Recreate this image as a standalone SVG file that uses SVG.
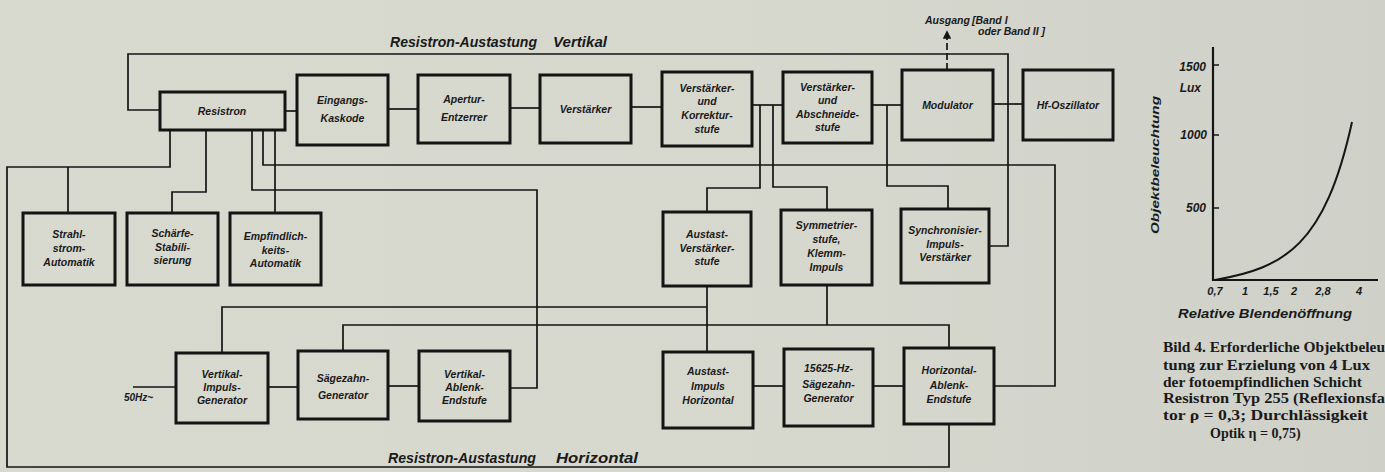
<svg xmlns="http://www.w3.org/2000/svg" width="1385" height="472" viewBox="0 0 1385 472">
<defs>
<linearGradient id="paper" x1="0" y1="0" x2="1" y2="0">
<stop offset="0" stop-color="#d8d9cf"/>
<stop offset="0.6" stop-color="#d6d7cd"/>
<stop offset="1" stop-color="#cfd0c8"/>
</linearGradient>
<marker id="arr" viewBox="0 0 10 10" refX="9" refY="5" markerWidth="5" markerHeight="5" orient="auto">
<path d="M0,0 L10,5 L0,10 z" fill="#151515"/>
</marker>
<style>
.box{fill:none;stroke:#141414;stroke-width:3}
.ln{fill:none;stroke:#151515;stroke-width:1.7}
.t{font-family:"Liberation Sans",Arial,sans-serif;font-style:italic;font-weight:bold;font-size:10.5px;fill:#1a1a1a;text-anchor:middle}
.ti{font-family:"Liberation Sans",Arial,sans-serif;font-style:italic;font-weight:bold;font-size:14px;fill:#1a1a1a}
.cap{font-family:"Liberation Serif","Times New Roman",serif;font-weight:bold;font-size:14px;fill:#1a1a1a}
.ax{font-family:"Liberation Sans",Arial,sans-serif;font-style:italic;font-weight:bold;font-size:11px;fill:#1a1a1a}
</style>
</defs>
<rect x="0" y="0" width="1385" height="472" fill="url(#paper)"/>

<g id="connectors">
<polyline class="ln" points="989,246 1008,246 1008,54 128,54 128,110 160,110"/>
<line class="ln" x1="285" y1="111" x2="297" y2="111"/>
<line class="ln" x1="388" y1="109" x2="418" y2="109"/>
<line class="ln" x1="510" y1="108" x2="540" y2="108"/>
<line class="ln" x1="631" y1="107" x2="662" y2="107"/>
<line class="ln" x1="752" y1="105" x2="783" y2="105"/>
<line class="ln" x1="872" y1="105" x2="902" y2="105"/>
<line class="ln" x1="993" y1="104" x2="1023" y2="104"/>
<line class="ln" x1="947" y1="70" x2="947" y2="31" stroke-dasharray="7 3" marker-end="url(#arr)"/>
<polyline class="ln" points="170,130 170,167 7,167 7,467 949,467 949,424"/>
<line class="ln" x1="68" y1="167" x2="68" y2="213"/>
<polyline class="ln" points="206,130 206,192 172,192 172,213"/>
<polyline class="ln" points="252,130 252,190 537,190 537,388 510,388"/>
<polyline class="ln" points="263,130 263,165 1055,165 1055,386 994,386"/>
<line class="ln" x1="275" y1="130" x2="275" y2="213"/>
<polyline class="ln" points="760,105 760,188 707,188 707,212"/>
<polyline class="ln" points="773,105 773,187 827,187 827,210"/>
<polyline class="ln" points="887,105 887,186 948,186 948,209"/>
<line class="ln" x1="707" y1="286" x2="707" y2="352"/>
<polyline class="ln" points="222,353 222,307 707,307"/>
<polyline class="ln" points="343,351 343,325 949,325 949,348"/>
<line class="ln" x1="827" y1="285" x2="827" y2="325"/>
<line class="ln" x1="133" y1="387" x2="176" y2="387"/>
<line class="ln" x1="268" y1="387" x2="298" y2="387"/>
<line class="ln" x1="388" y1="386" x2="419" y2="386"/>
<line class="ln" x1="753" y1="386" x2="784" y2="386"/>
<line class="ln" x1="873" y1="386" x2="904" y2="386"/>
</g>

<g id="labels">
<text class="ti" x="390" y="47" textLength="147" lengthAdjust="spacingAndGlyphs">Resistron-Austastung</text>
<text class="ti" x="553" y="47" textLength="54" lengthAdjust="spacingAndGlyphs">Vertikal</text>
<text class="ti" x="388" y="463" textLength="148" lengthAdjust="spacingAndGlyphs">Resistron-Austastung</text>
<text class="ti" x="556" y="463" textLength="82" lengthAdjust="spacingAndGlyphs">Horizontal</text>
<text class="t" x="925" y="24" style="text-anchor:start;font-size:10.5px">Ausgang</text>
<text class="t" x="972" y="24" style="text-anchor:start;font-size:10.5px">[Band I</text>
<text class="t" x="978" y="35" style="text-anchor:start;font-size:10.5px">oder Band II ]</text>
<text class="t" x="124" y="401" style="text-anchor:start;font-size:10px">50Hz~</text>
</g>

<g id="n-resistron"><rect class="box" x="160" y="92" width="125" height="38"/><text class="t" x="222" y="115">Resistron</text></g>
<g id="n-eingangs"><rect class="box" x="297" y="75" width="91" height="70"/><text class="t" x="342.5" y="104">Eingangs-</text><text class="t" x="342.5" y="122">Kaskode</text></g>
<g id="n-apertur"><rect class="box" x="418" y="75" width="92" height="68"/><text class="t" x="464" y="103">Apertur-</text><text class="t" x="464" y="121">Entzerrer</text></g>
<g id="n-verstaerker"><rect class="box" x="540" y="75" width="91" height="68"/><text class="t" x="585.5" y="113">Verstärker</text></g>
<g id="n-korrektur"><rect class="box" x="662" y="72" width="90" height="74"/><text class="t" x="707" y="92">Verstärker-</text><text class="t" x="707" y="105">und</text><text class="t" x="707" y="119">Korrektur-</text><text class="t" x="707" y="133">stufe</text></g>
<g id="n-abschneide"><rect class="box" x="783" y="72" width="89" height="71"/><text class="t" x="827.5" y="91">Verstärker-</text><text class="t" x="827.5" y="104">und</text><text class="t" x="827.5" y="118">Abschneide-</text><text class="t" x="827.5" y="131">stufe</text></g>
<g id="n-modulator"><rect class="box" x="902" y="70" width="91" height="70"/><text class="t" x="947.5" y="109">Modulator</text></g>
<g id="n-hf"><rect class="box" x="1023" y="70" width="90" height="70"/><text class="t" x="1068" y="109">Hf-Oszillator</text></g>

<g id="n-strahl"><rect class="box" x="23" y="213" width="92" height="72"/><text class="t" x="69" y="238">Strahl-</text><text class="t" x="69" y="252">strom-</text><text class="t" x="69" y="266">Automatik</text></g>
<g id="n-schaerfe"><rect class="box" x="127" y="213" width="91" height="72"/><text class="t" x="172.5" y="237">Schärfe-</text><text class="t" x="172.5" y="251">Stabili-</text><text class="t" x="172.5" y="264">sierung</text></g>
<g id="n-empfindlich"><rect class="box" x="230" y="213" width="91" height="72"/><text class="t" x="275.5" y="240">Empfindlich-</text><text class="t" x="275.5" y="254">keits-</text><text class="t" x="275.5" y="267">Automatik</text></g>
<g id="n-austast-v"><rect class="box" x="663" y="212" width="88" height="74"/><text class="t" x="707" y="238">Austast-</text><text class="t" x="707" y="252">Verstärker-</text><text class="t" x="707" y="265">stufe</text></g>
<g id="n-symmetrier"><rect class="box" x="781" y="210" width="91" height="75"/><text class="t" x="826.5" y="229">Symmetrier-</text><text class="t" x="826.5" y="243">stufe,</text><text class="t" x="826.5" y="257">Klemm-</text><text class="t" x="826.5" y="271">Impuls</text></g>
<g id="n-synchron"><rect class="box" x="901" y="209" width="88" height="74"/><text class="t" x="945" y="234">Synchronisier-</text><text class="t" x="945" y="248">Impuls-</text><text class="t" x="945" y="261">Verstärker</text></g>

<g id="n-vimpuls"><rect class="box" x="176" y="353" width="92" height="70"/><text class="t" x="222" y="378">Vertikal-</text><text class="t" x="222" y="391">Impuls-</text><text class="t" x="222" y="404">Generator</text></g>
<g id="n-saegezahn"><rect class="box" x="298" y="351" width="90" height="68"/><text class="t" x="343" y="382">Sägezahn-</text><text class="t" x="343" y="399">Generator</text></g>
<g id="n-vablenk"><rect class="box" x="419" y="351" width="91" height="70"/><text class="t" x="464.5" y="378">Vertikal-</text><text class="t" x="464.5" y="391">Ablenk-</text><text class="t" x="464.5" y="404">Endstufe</text></g>
<g id="n-austast-i"><rect class="box" x="663" y="352" width="90" height="76"/><text class="t" x="708" y="375">Austast-</text><text class="t" x="708" y="390">Impuls</text><text class="t" x="708" y="404">Horizontal</text></g>
<g id="n-15625"><rect class="box" x="784" y="349" width="89" height="77"/><text class="t" x="828.5" y="372">15625-Hz-</text><text class="t" x="828.5" y="388">Sägezahn-</text><text class="t" x="828.5" y="402">Generator</text></g>
<g id="n-hablenk"><rect class="box" x="904" y="348" width="90" height="76"/><text class="t" x="949" y="374">Horizontal-</text><text class="t" x="949" y="389">Ablenk-</text><text class="t" x="949" y="403">Endstufe</text></g>

<g id="graph">
<line x1="1213" y1="47" x2="1213" y2="281" stroke="#151515" stroke-width="2.2"/>
<line x1="1212" y1="280" x2="1378" y2="280" stroke="#151515" stroke-width="2.2"/>
<line x1="1213" y1="65" x2="1219" y2="65" stroke="#151515" stroke-width="1.5"/>
<line x1="1213" y1="135" x2="1219" y2="135" stroke="#151515" stroke-width="1.5"/>
<line x1="1213" y1="208" x2="1219" y2="208" stroke="#151515" stroke-width="1.5"/>
<path d="M1215,280 C1285,268 1325,245 1352,122" fill="none" stroke="#151515" stroke-width="2"/>
<text class="ax" x="1206" y="71" text-anchor="end" style="font-size:12px">1500</text>
<text class="ax" x="1201" y="92" text-anchor="end" style="font-size:12px">Lux</text>
<text class="ax" x="1207" y="139" text-anchor="end" style="font-size:12px">1000</text>
<text class="ax" x="1206" y="212" text-anchor="end" style="font-size:12px">500</text>
<text class="ax" transform="translate(1159,165) rotate(-90)" text-anchor="middle" textLength="138" lengthAdjust="spacingAndGlyphs">Objektbeleuchtung</text>
<text class="ax" x="1215" y="295" text-anchor="middle">0,7</text>
<text class="ax" x="1245" y="295" text-anchor="middle">1</text>
<text class="ax" x="1271" y="295" text-anchor="middle">1,5</text>
<text class="ax" x="1294" y="295" text-anchor="middle">2</text>
<text class="ax" x="1323" y="295" text-anchor="middle">2,8</text>
<text class="ax" x="1359" y="295" text-anchor="middle">4</text>
<text class="ax" x="1178" y="318" textLength="174" lengthAdjust="spacingAndGlyphs" style="font-size:12.5px">Relative  Blendenöffnung</text>
</g>

<g id="caption">
<text class="cap" x="1163" y="352" textLength="222" lengthAdjust="spacingAndGlyphs">Bild 4. Erforderliche Objektbeleu</text>
<text class="cap" x="1163" y="370" textLength="207" lengthAdjust="spacingAndGlyphs">tung zur Erzielung von 4 Lux</text>
<text class="cap" x="1163" y="387" textLength="199" lengthAdjust="spacingAndGlyphs">der fotoempfindlichen Schicht</text>
<text class="cap" x="1163" y="403" textLength="222" lengthAdjust="spacingAndGlyphs">Resistron Typ 255 (Reflexionsfa</text>
<text class="cap" x="1163" y="420" textLength="205" lengthAdjust="spacingAndGlyphs">tor ρ = 0,3; Durchlässigkeit</text>
<text class="cap" x="1210" y="438">Optik η = 0,75)</text>
</g>
</svg>
